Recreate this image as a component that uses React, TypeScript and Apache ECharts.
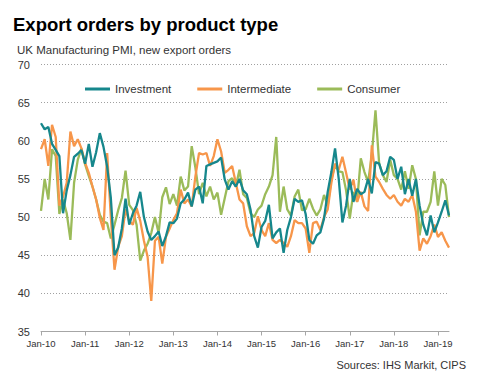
import React, { useEffect, useRef } from "react";
import * as echarts from "echarts";

const YEARS = ["10", "11", "12", "13", "14", "15", "16", "17", "18", "19"];
const MONTHS = ["Jan", "Feb", "Mar", "Apr", "May", "Jun", "Jul", "Aug", "Sep", "Oct", "Nov", "Dec"];
const LAST_YEAR_MONTHS = 4;

const investment = [
  62.3, 61.5, 61.8, 59.6, 58.8, 58.0, 50.5, 53.5, 55.5, 57.9, 58.3, 58.8,
  57.0, 59.6, 56.6, 58.5, 61.0, 59.2, 56.6, 52.5, 45.0, 46.0, 48.5, 52.4,
  49.0, 50.5, 51.5, 53.3, 50.0, 48.1, 47.0, 47.5, 48.1, 46.2, 47.5, 49.3,
  49.2, 49.8, 51.8, 52.3, 53.2, 51.4, 53.6, 54.0, 51.8, 56.7, 56.9, 57.1,
  57.3, 57.8, 54.9, 53.6, 54.7, 54.0, 55.0, 53.5, 53.0, 51.0, 47.5, 46.0,
  48.7, 49.5, 51.6, 47.2, 48.0, 48.5, 45.3, 48.3, 50.0, 52.4, 52.0, 52.2,
  50.4, 47.0, 46.5, 47.6, 48.0, 49.8, 53.3, 55.9, 59.0, 55.0, 49.3, 51.5,
  55.0, 52.0, 53.7, 53.0, 53.3, 55.0, 53.1, 57.2, 57.0, 55.5, 56.0, 57.9,
  57.5, 55.0, 56.6, 53.0, 55.0, 52.8, 55.0, 51.5, 49.0, 47.6, 50.2, 48.0,
  49.3, 50.7, 52.2, 50.2,
];

const intermediate = [
  58.9, 60.2, 56.7, 62.1, 60.5, 51.5, 52.7, 54.5, 61.2, 59.3, 60.2, 59.0,
  57.1, 55.8, 54.0, 52.3, 49.9, 48.3, 58.4, 50.0, 43.1, 46.1, 47.5, 51.0,
  49.5, 49.0, 51.2, 49.5, 46.9, 44.8, 39.0, 46.9, 47.4, 43.9, 47.4, 48.5,
  49.6, 50.5, 53.6, 51.8, 52.3, 51.4, 55.3, 58.4, 58.2, 58.4, 56.7, 58.0,
  60.2, 58.6, 55.8, 56.2, 56.7, 54.5, 52.3, 51.8, 48.8, 47.5, 47.9, 50.1,
  48.3, 47.5, 49.2, 47.0, 46.6, 47.0, 46.6, 46.1, 47.5, 49.6, 49.2, 49.2,
  48.5, 45.3, 49.2, 49.4, 48.3, 50.0, 51.0, 54.5, 57.0, 56.2, 57.9, 55.8,
  53.6, 54.9, 52.0, 53.3, 51.4, 50.8, 59.4, 55.3, 54.6, 53.7, 52.9, 52.4,
  52.9, 52.0, 51.5, 52.4, 52.0, 52.9, 50.7, 45.6, 47.2, 46.5, 47.5, 49.0,
  47.4, 48.0, 46.9, 46.0,
];

const consumer = [
  50.8, 55.0, 52.3, 58.9, 58.0, 50.4, 52.3, 50.5, 47.0, 54.5, 57.5, 59.0,
  56.9, 55.4, 54.0, 52.3, 50.3, 49.4, 49.2, 47.2, 49.0, 50.9, 52.5, 56.1,
  51.6, 50.9, 49.0, 44.3, 45.6, 46.5, 47.9, 50.0, 47.9, 52.6, 53.9, 51.7,
  53.0, 51.5, 55.3, 53.5, 54.0, 59.3, 56.5, 53.0, 54.5, 52.7, 54.0, 52.3,
  53.2, 50.3, 52.5, 54.7, 55.1, 54.0, 56.2, 53.0, 52.5, 50.5, 50.0, 51.0,
  51.5, 53.0, 54.0, 55.5, 60.5, 50.7, 54.0, 51.0, 50.2, 52.7, 53.6, 50.9,
  51.0, 52.4, 51.1, 50.2, 51.0, 52.9, 51.5, 55.0, 56.8, 56.0, 55.9, 53.5,
  49.8, 53.3, 52.0, 57.7, 55.9, 54.6, 58.1, 64.0, 57.0, 55.5, 54.6, 57.5,
  55.5, 55.0, 53.6, 56.0, 53.7, 56.8, 55.0, 47.6, 50.7, 50.7, 52.0, 56.0,
  51.5, 55.0, 54.2, 50.0,
];

const SERIES_NAMES = ["Investment", "Intermediate", "Consumer"];
const COLORS = ["#16878c", "#f7964a", "#9bbb59"];
const Y_MIN = 35;
const Y_MAX = 70;
const Y_STEP = 5;

const categories: string[] = [];
YEARS.forEach((y, yi) => {
  const months = yi === YEARS.length - 1 ? MONTHS.slice(0, LAST_YEAR_MONTHS) : MONTHS;
  months.forEach((m) => categories.push(`${m}-${y}`));
});

const FONT = "'Liberation Sans', Arial, sans-serif";

export default function App() {
  const ref = useRef<HTMLDivElement>(null);

  useEffect(() => {
    if (!ref.current) return;
    const chart = echarts.init(ref.current, undefined, { renderer: "svg" });
    const data = [investment, intermediate, consumer];
    chart.setOption({
      animation: false,
      backgroundColor: "#ffffff",
      textStyle: { fontFamily: FONT },
      graphic: [
        {
          type: "text",
          x: 13,
          y: 24,
          style: {
            text: "Export orders by product type",
            font: `bold 18.5px ${FONT}`,
            fill: "#000000",
            verticalAlign: "middle",
          },
        },
        {
          type: "text",
          x: 17,
          y: 50.3,
          style: {
            text: "UK Manufacturing PMI, new export orders",
            font: `11.5px ${FONT}`,
            fill: "#333333",
            verticalAlign: "middle",
          },
        },
        {
          type: "text",
          x: 466,
          y: 364.5,
          style: {
            text: "Sources: IHS Markit, CIPS",
            font: `11px ${FONT}`,
            fill: "#333333",
            align: "right",
            verticalAlign: "middle",
          },
        },
      ],
      legend: {
        left: 80,
        top: 78,
        icon: "rect",
        itemWidth: 25,
        itemHeight: 3,
        itemGap: 26,
        textStyle: { fontFamily: FONT, fontSize: 11.5, color: "#333333" },
        data: SERIES_NAMES,
      },
      grid: { left: 41, right: 40, top: 64.5, bottom: 51.5, containLabel: false },
      xAxis: {
        type: "category",
        data: categories,
        boundaryGap: false,
        axisLine: { show: true, lineStyle: { color: "#a6a6a6", width: 1 } },
        axisTick: { show: true, interval: 11, length: 4, lineStyle: { color: "#a6a6a6" } },
        axisLabel: {
          interval: 11,
          fontFamily: FONT,
          fontSize: 9.5,
          color: "#333333",
          margin: 7,
        },
        splitLine: { show: false },
      },
      yAxis: {
        type: "value",
        min: Y_MIN,
        max: Y_MAX,
        interval: Y_STEP,
        axisLine: { show: false },
        axisTick: { show: false },
        axisLabel: { fontFamily: FONT, fontSize: 11, color: "#333333", margin: 11 },
        splitLine: {
          show: true,
          lineStyle: { color: "#a0a0a0", type: [1, 2], width: 1 },
        },
      },
      series: SERIES_NAMES.map((name, i) => ({
        name,
        type: "line",
        data: data[i],
        symbol: "none",
        color: COLORS[i],
        lineStyle: { color: COLORS[i], width: 2.3 },
        z: 3 - i,
      })),
    });
    return () => chart.dispose();
  }, []);

  return (
    <div
      ref={ref}
      style={{ position: "fixed", left: 0, top: 0, width: 489, height: 383 }}
    />
  );
}
